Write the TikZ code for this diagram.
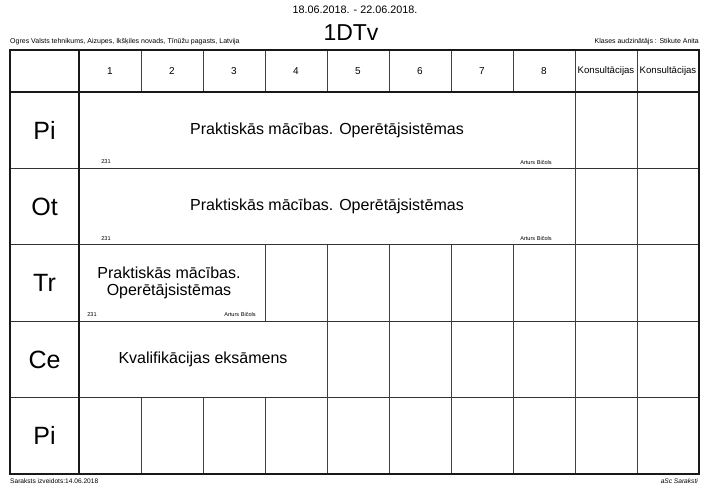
\documentclass[tikz,border=0pt]{standalone}
\usepackage{fontspec}
\setmainfont{Liberation Sans}
\begin{document}
\begin{tikzpicture}[x=1pt,y=-1pt,
  fs/.style={font=\fontsize{#1}{#1}\selectfont},
  cell/.style={inner sep=0pt, align=center},
  thin/.style={line width=0.9pt, draw=black!75},
  rowline/.style={line width=1.1pt, draw=black!80},
  thick/.style={line width=1.8pt, draw=black!90},
  small/.style={inner sep=0pt, font=\fontsize{5.6}{6}\selectfont},
  day/.style={inner sep=0pt, font=\fontsize{25}{28}\selectfont},
  lesson/.style={inner sep=0pt, align=center, font=\fontsize{16}{17.5}\selectfont},
  hdr/.style={inner sep=0pt, font=\fontsize{10}{12}\selectfont},
]
\useasboundingbox (0,0) rectangle (711,501);
\fill[white] (0,0) rectangle (711,501);

% titles
\node[cell, fs=10.8] (dates) at (355,10) {18.06.2018. - 22.06.2018.};
\node[cell, fs=23] (cls) at (351,33) {1DTv};
\node[inner sep=0pt, anchor=base west, fs=7] (school) at (10,43.5) {Ogres Valsts tehnikums, Aizupes, Ikšķiles novads, Tīnūžu pagasts, Latvija};
\node[inner sep=0pt, anchor=base east, fs=7] (teacher) at (699,43.5) {Klases audzinātājs : Stikute Anita};
\node[inner sep=0pt, anchor=base west, fs=6.6] (created) at (10,483.5) {Saraksts izveidots:14.06.2018};
\node[inner sep=0pt, anchor=base east, fs=6.6] (asc) at (698,483.5) {\itshape aSc Saraksti};

% horizontal row lines
\foreach \y in {168.4,244.8,321.2,397.6} \draw[rowline] (10,\y) -- (699,\y);

% vertical lines in header row
\foreach \x in {141,203,265,327,389,451,513,575,637} \draw[thin] (\x,50) -- (\x,92);
% Pi / Ot rows: only consultation columns
\foreach \x in {575,637} \draw[thin] (\x,92) -- (\x,244.8);
% Tr row
\foreach \x in {265,327,389,451,513,575,637} \draw[thin] (\x,244.8) -- (\x,321.2);
% Ce row
\foreach \x in {327,389,451,513,575,637} \draw[thin] (\x,321.2) -- (\x,397.6);
% last Pi row
\foreach \x in {141,203,265,327,389,451,513,575,637} \draw[thin] (\x,397.6) -- (\x,474);

% thick lines
\draw[thick] (10,92) -- (699,92);
\draw[thick] (79,50) -- (79,474);
\draw[thick] (10,50) rectangle (699,474);

% header labels
\foreach \i/\x in {1/110,2/172,3/234,4/296,5/358,6/420,7/482,8/544}
  \node[hdr] (h\i) at (\x,71.5) {\i};
\node[inner sep=0pt, fs=9.6] (k1) at (606,71.5) {Konsultācijas};
\node[inner sep=0pt, fs=9.6] (k2) at (668,71.5) {Konsultācijas};

% day labels
\node[day] (d1) at (44.5,130.2) {Pi};
\node[day] (d2) at (44.5,206.6) {Ot};
\node[day] (d3) at (44.5,283) {Tr};
\node[day] (d4) at (44.5,359.4) {Ce};
\node[day] (d5) at (44.5,435.8) {Pi};

% lessons
\node[lesson] (l1) at (327,130.2) {Praktiskās mācības. Operētājsistēmas};
\node[small] (r1) at (106,162) {231};
\node[small] (t1) at (536,162) {Arturs Bičols};

\node[lesson] (l2) at (327,206.6) {Praktiskās mācības. Operētājsistēmas};
\node[small] (r2) at (106,238.4) {231};
\node[small] (t2) at (536,238.4) {Arturs Bičols};

\node[lesson] (l3) at (169,283) {Praktiskās mācības.\\Operētājsistēmas};
\node[small] (r3) at (92,314.8) {231};
\node[small] (t3) at (240,314.8) {Arturs Bičols};

\node[lesson] (l4) at (203,359.4) {Kvalifikācijas eksāmens};
\end{tikzpicture}
\end{document}
